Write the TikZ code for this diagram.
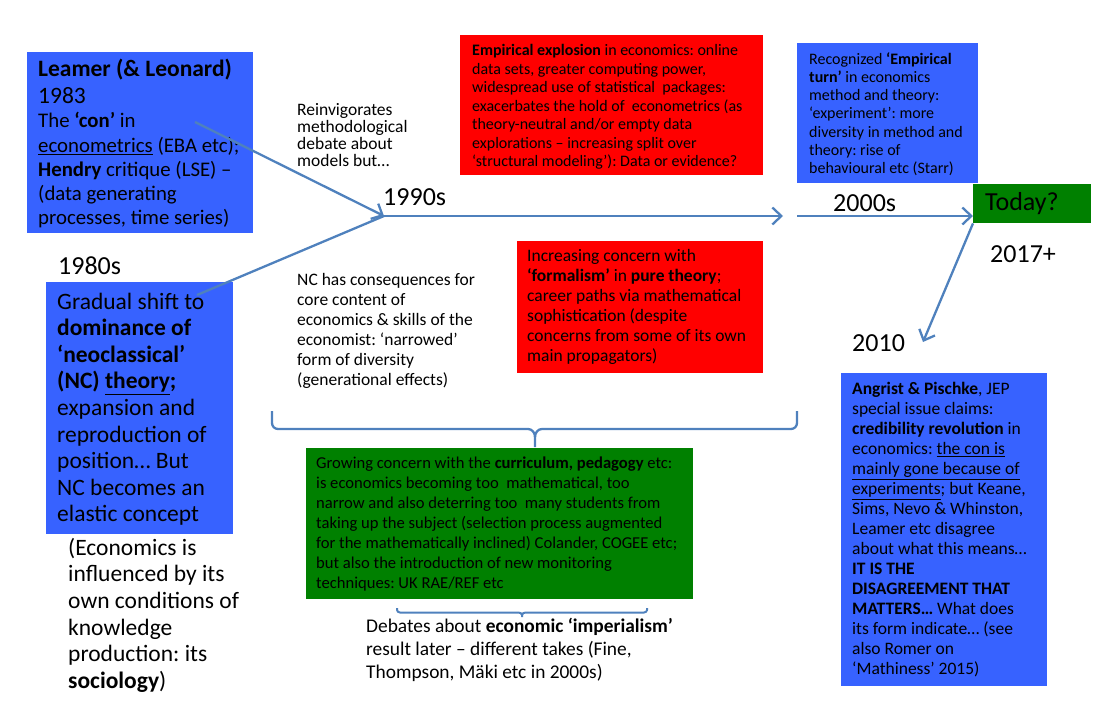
\documentclass[tikz,border=0pt]{standalone}
\usepackage{fontspec}
\setmainfont{Carlito}
\usetikzlibrary{arrows.meta}
\definecolor{boxblue}{RGB}{55,98,255}
\definecolor{boxred}{RGB}{255,0,0}
\definecolor{boxgreen}{RGB}{0,128,0}
\definecolor{linkblue}{RGB}{79,129,189}
\frenchspacing
\begin{document}
\frenchspacing
\begin{tikzpicture}[x=1pt,y=-1pt,
  panel/.style={anchor=north west, inner sep=0pt, draw=none},
  bluepanel/.style={panel, fill=boxblue},
  redpanel/.style={panel, fill=boxred},
  greenpanel/.style={panel, fill=boxgreen},
  paneltext/.style={anchor=west, inner sep=0pt, align=left, text=black},
  freetext/.style={anchor=north west, inner sep=0pt, align=left, text=black},
  yearlabel/.style={anchor=base west, inner sep=0pt, font=\fontsize{26}{30}\selectfont},
  link/.style={draw=linkblue, line width=2.3pt},
  linkarrow/.style={link, -{Straight Barb[length=9pt,width=17pt,line width=2.3pt]}},
  bracestyle/.style={draw=linkblue, line width=2.3pt, line join=round}
]
\useasboundingbox (0,0) rectangle (1105,704);

% ---------- top left box ----------
\node[bluepanel, minimum width=226pt, minimum height=181pt] (leamer) at (27,52) {};
\node[paneltext, font=\fontsize{20.8}{24.2}\selectfont] (leamertxt) at ([xshift=11pt,yshift=-1pt]leamer.west)
 {{\fontsize{23.5}{24}\selectfont\textbf{Leamer (\& Leonard)}}\\[2.8pt]
  {\fontsize{23.5}{24}\selectfont 1983}\\
  The \textbf{‘con’} in\\
  \underline{econometrics} (EBA etc);\\
  \textbf{Hendry} critique (LSE) –\\
  (data generating\\
  processes, time series)};

% ---------- free text ----------
\node[freetext, font=\fontsize{17.5}{17}\selectfont] (reinv) at (297,103)
 {Reinvigorates\\ methodological\\ debate about\\ models but…};

\node[freetext, font=\fontsize{17.5}{20}\selectfont] (nccons) at (297,273)
 {NC has consequences for\\ core content of\\ economics \& skills of the\\ economist: ‘narrowed’\\ form of diversity\\ (generational effects)};

% ---------- top red ----------
\node[redpanel, minimum width=303pt, minimum height=140pt] (empexp) at (460,35) {};
\node[paneltext, font=\fontsize{16}{18.5}\selectfont] (empexptxt) at ([xshift=12pt,yshift=-2pt]empexp.west)
 {\textbf{Empirical explosion} in economics: online\\
  data sets, greater computing power,\\
  widespread use of statistical\ \ packages:\\
  exacerbates the hold of\ \ econometrics (as\\
  theory-neutral and/or empty data\\
  explorations – increasing split over\\
  ‘structural modeling’): Data or evidence?};

% ---------- top right blue ----------
\node[bluepanel, minimum width=181pt, minimum height=140pt] (empturn) at (797,43) {};
\node[paneltext, font=\fontsize{16}{18.3}\selectfont] (empturntxt) at ([xshift=12pt,yshift=-1pt]empturn.west)
 {Recognized \textbf{‘Empirical}\\
  \textbf{turn’} in economics\\
  method and theory:\\
  ‘experiment’: more\\
  diversity in method and\\
  theory: rise of\\
  behavioural etc (Starr)};

% ---------- Today ----------
\node[greenpanel, minimum width=118pt, minimum height=39pt] (today) at (973,184) {};
\node[paneltext, font=\fontsize{26}{30}\selectfont] (todaytxt) at ([xshift=12pt]today.west) {Today?};

% ---------- mid red ----------
\node[redpanel, minimum width=246pt, minimum height=132pt] (formal) at (517,241) {};
\node[paneltext, font=\fontsize{17.5}{20}\selectfont] (formaltxt) at ([xshift=10pt]formal.west)
 {Increasing concern with\\
  \textbf{‘formalism’} in \textbf{pure theory};\\
  career paths via mathematical\\
  sophistication (despite\\
  concerns from some of its own\\
  main propagators)};

% ---------- left blue ----------
\node[bluepanel, minimum width=187pt, minimum height=252pt] (nc) at (46,282) {};
\node[paneltext, font=\fontsize{23.5}{26.6}\selectfont] (nctxt) at ([xshift=11pt,yshift=-1pt]nc.west)
 {Gradual shift to\\
  \textbf{dominance of}\\
  \textbf{‘neoclassical’}\\
  \textbf{(NC) \underline{theory};}\\
  expansion and\\
  reproduction of\\
  position… But\\
  NC becomes an\\
  elastic concept};

\node[freetext, font=\fontsize{23.5}{26.6}\selectfont] (socio) at (68,538)
 {(Economics is\\ influenced by its\\ own conditions of\\ knowledge\\ production: its\\ \textbf{sociology})};

% ---------- green ----------
\node[greenpanel, minimum width=387pt, minimum height=151pt] (curric) at (306,448) {};
\node[paneltext, font=\fontsize{16.6}{20}\selectfont] (currictxt) at ([xshift=10pt]curric.west)
 {Growing concern with the \textbf{curriculum, pedagogy} etc:\\
  is economics becoming too\ \ mathematical, too\\
  narrow and also deterring too\ \ many students from\\
  taking up the subject (selection process augmented\\
  for the mathematically inclined) Colander, COGEE etc;\\
  but also the introduction of new monitoring\\
  techniques: UK RAE/REF etc};

\node[freetext, font=\fontsize{19.4}{23}\selectfont] (imper) at (366,618)
 {Debates about \textbf{economic ‘imperialism’}\\ result later – different takes (Fine,\\ Thompson, Mäki etc in 2000s)};

% ---------- bottom right blue ----------
\node[bluepanel, minimum width=206pt, minimum height=313pt] (cred) at (841,373) {};
\node[paneltext, font=\fontsize{17.5}{20}\selectfont] (credtxt) at ([xshift=11pt]cred.west)
 {\textbf{Angrist \& Pischke}, JEP\\
  special issue claims:\\
  \textbf{credibility revolution} in\\
  economics: \underline{the con is}\\
  \underline{mainly gone because of}\\
  \underline{experiments}; but Keane,\\
  Sims, Nevo \& Whinston,\\
  Leamer etc disagree\\
  about what this means…\\
  \textbf{IT IS THE}\\
  \textbf{DISAGREEMENT THAT}\\
  \textbf{MATTERS…} What does\\
  its form indicate… (see\\
  also Romer on\\
  ‘Mathiness’ 2015)};

% ---------- year labels ----------
\node[yearlabel] (y1980) at (58,274) {1980s};
\node[yearlabel] (y1990) at (383,205) {1990s};
\node[yearlabel] (y2000) at (833,211) {2000s};
\node[yearlabel] (y2017) at (990,262) {2017+};
\node[yearlabel] (y2010) at (852,351) {2010};

% ---------- connectors ----------
\coordinate (from1983) at (195,122);
\coordinate (from1980) at (197,295);
\coordinate (hub) at (384,216);
\coordinate (mid2000) at (783,216);
\coordinate (start2000) at (797,216);
\coordinate (to2010) at (923,342);

\draw[link] (from1980) -- (hub);
\draw[linkarrow] (from1983) -- (hub);
\draw[linkarrow] (hub) -- (mid2000);
\draw[linkarrow] (start2000) -- (today.west |- start2000);
\draw[linkarrow] (today.south west) -- (to2010);

% ---------- braces ----------
\coordinate (bigL) at (272,411);
\coordinate (bigR) at (797,411);
\coordinate (bigTip) at (535,447);
\draw[bracestyle] (bigL) -- (272,423) to[out=-90,in=180] (278,429) -- (528,429)
  to[out=0,in=90] (535,437) -- (bigTip);
\draw[bracestyle] (535,437) to[out=90,in=180] (542,429) -- (791,429)
  to[out=0,in=-90] (797,423) -- (bigR);

\coordinate (smL) at (397,608);
\coordinate (smR) at (647,608);
\coordinate (smTip) at (522,617);
\draw[bracestyle, line width=2pt] (smL) -- (397,610) to[out=-90,in=180] (400,612.5) -- (518,612.5)
  to[out=0,in=90] (522,615) -- (smTip);
\draw[bracestyle, line width=2pt] (522,615) to[out=90,in=180] (526,612.5) -- (644,612.5)
  to[out=0,in=-90] (647,610) -- (smR);
\end{tikzpicture}
\end{document}
